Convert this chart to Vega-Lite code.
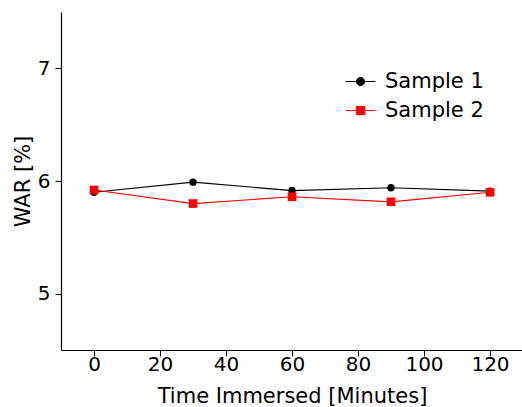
{
  "$schema": "https://vega.github.io/schema/vega-lite/v6.json",
  "autosize": "none",
  "width": 462,
  "height": 338,
  "padding": {"left": 61, "top": 12, "right": 0, "bottom": 57},
  "background": "white",
  "config": {
    "font": "DejaVu Sans",
    "view": {"stroke": null},
    "axis": {
      "domainColor": "#000",
      "tickColor": "#000",
      "labelColor": "#000",
      "titleColor": "#000",
      "grid": false,
      "labelFontSize": 20,
      "titleFontSize": 21,
      "titleFontWeight": "normal",
      "tickSize": 6,
      "domainWidth": 1.2
    }
  },
  "data": {
    "values": [
      {"time": 0, "war": 5.90, "sample": "Sample 1"},
      {"time": 30, "war": 5.99, "sample": "Sample 1"},
      {"time": 60, "war": 5.915, "sample": "Sample 1"},
      {"time": 90, "war": 5.94, "sample": "Sample 1"},
      {"time": 120, "war": 5.91, "sample": "Sample 1"},
      {"time": 0, "war": 5.92, "sample": "Sample 2"},
      {"time": 30, "war": 5.80, "sample": "Sample 2"},
      {"time": 60, "war": 5.86, "sample": "Sample 2"},
      {"time": 90, "war": 5.815, "sample": "Sample 2"},
      {"time": 120, "war": 5.90, "sample": "Sample 2"}
    ]
  },
  "encoding": {
    "x": {
      "field": "time", "type": "quantitative",
      "scale": {"domain": [-10, 130], "nice": false, "zero": false},
      "axis": {"values": [0, 20, 40, 60, 80, 100, 120], "title": "Time Immersed [Minutes]", "titlePadding": 11, "labelPadding": -2}
    },
    "y": {
      "field": "war", "type": "quantitative",
      "scale": {"domain": [4.5, 7.5], "nice": false, "zero": false},
      "axis": {"values": [5, 6, 7], "title": "WAR [%]", "titlePadding": 4, "labelPadding": 5}
    },
    "color": {
      "field": "sample", "type": "nominal",
      "scale": {"domain": ["Sample 1", "Sample 2"], "range": ["#000000", "#ff0000"]},
      "legend": {
        "title": null,
        "orient": "none",
        "legendX": 284,
        "legendY": 54,
        "padding": 0,
        "labelFontSize": 21,
        "labelColor": "#000",
        "symbolSize": 900,
        "symbolStrokeWidth": 1,
        "rowPadding": 3,
        "labelOffset": 9,
        "encode": {
          "symbols": {
            "update": {
              "shape": {"signal": "datum.value === 'Sample 1' ? 'M-1,0H1M-0.27,0A0.27,0.27 0 1,1 0.27,0A0.27,0.27 0 1,1 -0.27,0Z' : 'M-1,0H1M-0.28,-0.28H0.28V0.28H-0.28Z'"},
              "fill": {"signal": "datum.value === 'Sample 1' ? '#000000' : '#ff0000'"},
              "stroke": {"signal": "datum.value === 'Sample 1' ? '#000000' : '#ff0000'"},
              "strokeWidth": {"value": 1},
              "size": {"value": 900},
              "opacity": {"value": 1}
            }
          }
        }
      }
    }
  },
  "layer": [
    {"mark": {"type": "line", "strokeWidth": 1.2}},
    {
      "transform": [{"filter": "datum.sample === 'Sample 1'"}],
      "mark": {"type": "point", "shape": "circle", "filled": true, "opacity": 1, "size": 55}
    },
    {
      "transform": [{"filter": "datum.sample === 'Sample 2'"}],
      "mark": {"type": "point", "shape": "square", "filled": true, "opacity": 1, "size": 75}
    }
  ]
}
